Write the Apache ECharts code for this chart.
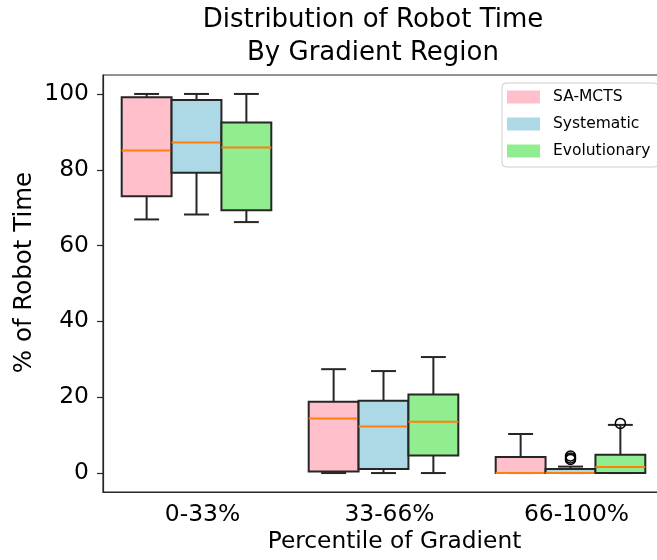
<!DOCTYPE html>
<html>
<head>
<meta charset="utf-8">
<script src="https://cdn.jsdelivr.net/npm/echarts@6/dist/echarts.min.js"></script>
<style>
  html, body { margin: 0; padding: 0; background: #fff; }
  #chart { width: 657px; height: 560px; }
</style>
</head>
<body>
<div id="chart"></div>
<script>
// Gradient percentile bins on the x axis
const categories = ['0-33%', '33-66%', '66-100%'];
const seriesNames = ['SA-MCTS', 'Systematic', 'Evolutionary'];
const seriesColors = ['#ffc0cb', '#add8e6', '#90ee90'];
const yTicks = [0, 20, 40, 60, 80, 100];

// Five-number summaries per bin: [lower whisker, Q1, median, Q3, upper whisker]
const saMcts = [
  [66.9, 73.0, 85.1, 99.1, 100],
  [0, 0.4, 14.4, 18.8, 27.4],
  [0, 0, 0, 4.2, 10.3]
];
const systematic = [
  [68.2, 79.2, 87.2, 98.4, 100],
  [0, 1.05, 12.3, 19.1, 26.9],
  [0, 0, 0, 1.05, 1.7]
];
const evolutionary = [
  [66.2, 69.3, 85.9, 92.5, 100],
  [0, 4.6, 13.5, 20.7, 30.6],
  [0, 0, 1.6, 4.8, 12.7]
];
// Outliers: [bin index, value]
const systematicOutliers = [[2, 3.6], [2, 4.0], [2, 4.5]];
const evolutionaryOutliers = [[2, 13.1]];

const FONT = 'DejaVu Sans';
const EDGE = '#262626';
const MEDIAN = '#ff7f0e';
const LW = 2;

function boxRenderer(hue, color) {
  return function (params, api) {
    const cat = api.value(0);
    const lo = api.value(1), q1 = api.value(2), med = api.value(3), q3 = api.value(4), hi = api.value(5);
    const band = api.size([1, 0])[0];
    const w = band * 0.8 / 3;
    const cx = api.coord([cat, med])[0] + (hue - 1) * w;
    const y = v => api.coord([cat, v])[1];
    const line = (x1, y1, x2, y2, stroke) => ({
      type: 'line', shape: { x1, y1, x2, y2 },
      style: { stroke: stroke || EDGE, lineWidth: LW }
    });
    return {
      type: 'group',
      children: [
        line(cx, y(hi), cx, y(q3)),
        line(cx, y(q1), cx, y(lo)),
        line(cx - w / 4, y(hi), cx + w / 4, y(hi)),
        line(cx - w / 4, y(lo), cx + w / 4, y(lo)),
        {
          type: 'rect',
          shape: { x: cx - w / 2, y: y(q3), width: w, height: y(q1) - y(q3) },
          style: { fill: color, stroke: EDGE, lineWidth: LW }
        },
        line(cx - w / 2, y(med), cx + w / 2, y(med), MEDIAN)
      ]
    };
  };
}

function outlierRenderer(hue) {
  return function (params, api) {
    const cat = api.value(0);
    const v = api.value(1);
    const band = api.size([1, 0])[0];
    const w = band * 0.8 / 3;
    const p = api.coord([cat, v]);
    return {
      type: 'circle',
      shape: { cx: p[0] + (hue - 1) * w, cy: p[1], r: 5 },
      style: { fill: 'none', stroke: '#000', lineWidth: 1.5 }
    };
  };
}

const summaries = [saMcts, systematic, evolutionary];
const series = summaries.map((rows, hue) => ({
  name: seriesNames[hue],
  type: 'custom',
  itemStyle: { color: seriesColors[hue] },
  encode: { x: 0, y: [1, 2, 3, 4, 5] },
  data: rows.map((r, i) => [i].concat(r)),
  renderItem: boxRenderer(hue, seriesColors[hue]),
  z: 2
}));
series.push({
  name: 'Systematic outliers',
  type: 'custom',
  encode: { x: 0, y: 1 },
  data: systematicOutliers,
  renderItem: outlierRenderer(1),
  z: 3
});
series.push({
  name: 'Evolutionary outliers',
  type: 'custom',
  encode: { x: 0, y: 1 },
  data: evolutionaryOutliers,
  renderItem: outlierRenderer(2),
  z: 3
});

const chart = echarts.init(document.getElementById('chart'), null, { renderer: 'canvas' });
chart.setOption({
  animation: false,
  backgroundColor: '#fff',
  textStyle: { fontFamily: FONT },
  graphic: [{
    type: 'text',
    x: 373,
    y: 3,
    style: {
      text: 'Distribution of Robot Time\nBy Gradient Region',
      font: '26px "DejaVu Sans"',
      fill: '#000',
      align: 'center',
      verticalAlign: 'top',
      lineHeight: 33.5
    }
  }],
  legend: {
    orient: 'vertical',
    left: 502,
    top: 83,
    padding: [6, 8, 8, 5],
    itemWidth: 33,
    itemHeight: 13,
    itemGap: 11,
    borderColor: '#cccccc',
    borderWidth: 1,
    borderRadius: 4,
    backgroundColor: 'rgba(255,255,255,0.8)',
    textStyle: { fontFamily: FONT, fontSize: 15.5, color: '#000', lineHeight: 13, padding: [0, 0, 0, 8] },
    data: seriesNames.map((n, i) => ({ name: n, icon: 'rect', itemStyle: { color: seriesColors[i], borderWidth: 0 } }))
  },
  grid: {
    left: 103, top: 75, width: 561, height: 417,
    outerBoundsMode: 'none',
    containLabel: false,
    show: true, borderColor: EDGE, borderWidth: 1.2, backgroundColor: 'transparent'
  },
  xAxis: {
    type: 'category',
    data: categories,
    boundaryGap: true,
    name: 'Percentile of Gradient',
    nameLocation: 'middle',
    nameGap: 38,
    nameMoveOverlap: false,
    nameTextStyle: { fontFamily: FONT, fontSize: 23.3, color: '#000', padding: [0, 0, 0, 22] },
    axisLine: { onZero: false, lineStyle: { color: EDGE, width: 1.2 } },
    axisTick: { alignWithLabel: true, length: 6, lineStyle: { color: EDGE, width: 1.2 } },
    axisLabel: { fontFamily: FONT, fontSize: 23.4, color: '#000', margin: 11, padding: [0, 0, 0, 12] },
    splitLine: { show: false }
  },
  yAxis: {
    type: 'value',
    min: -5,
    max: 105,
    name: '% of Robot Time',
    nameLocation: 'middle',
    nameGap: 66,
    nameRotate: 90,
    nameMoveOverlap: false,
    nameTextStyle: { fontFamily: FONT, fontSize: 24.5, color: '#000', padding: [0, 0, 0, 22] },
    axisLine: { show: true, onZero: false, lineStyle: { color: EDGE, width: 1.2 } },
    axisTick: { show: true, length: 6, customValues: yTicks, lineStyle: { color: EDGE, width: 1.2 } },
    axisLabel: { fontFamily: FONT, fontSize: 23.4, color: '#000', margin: 14, customValues: yTicks },
    splitLine: { show: false }
  },
  series: series
});
</script>
</body>
</html>
